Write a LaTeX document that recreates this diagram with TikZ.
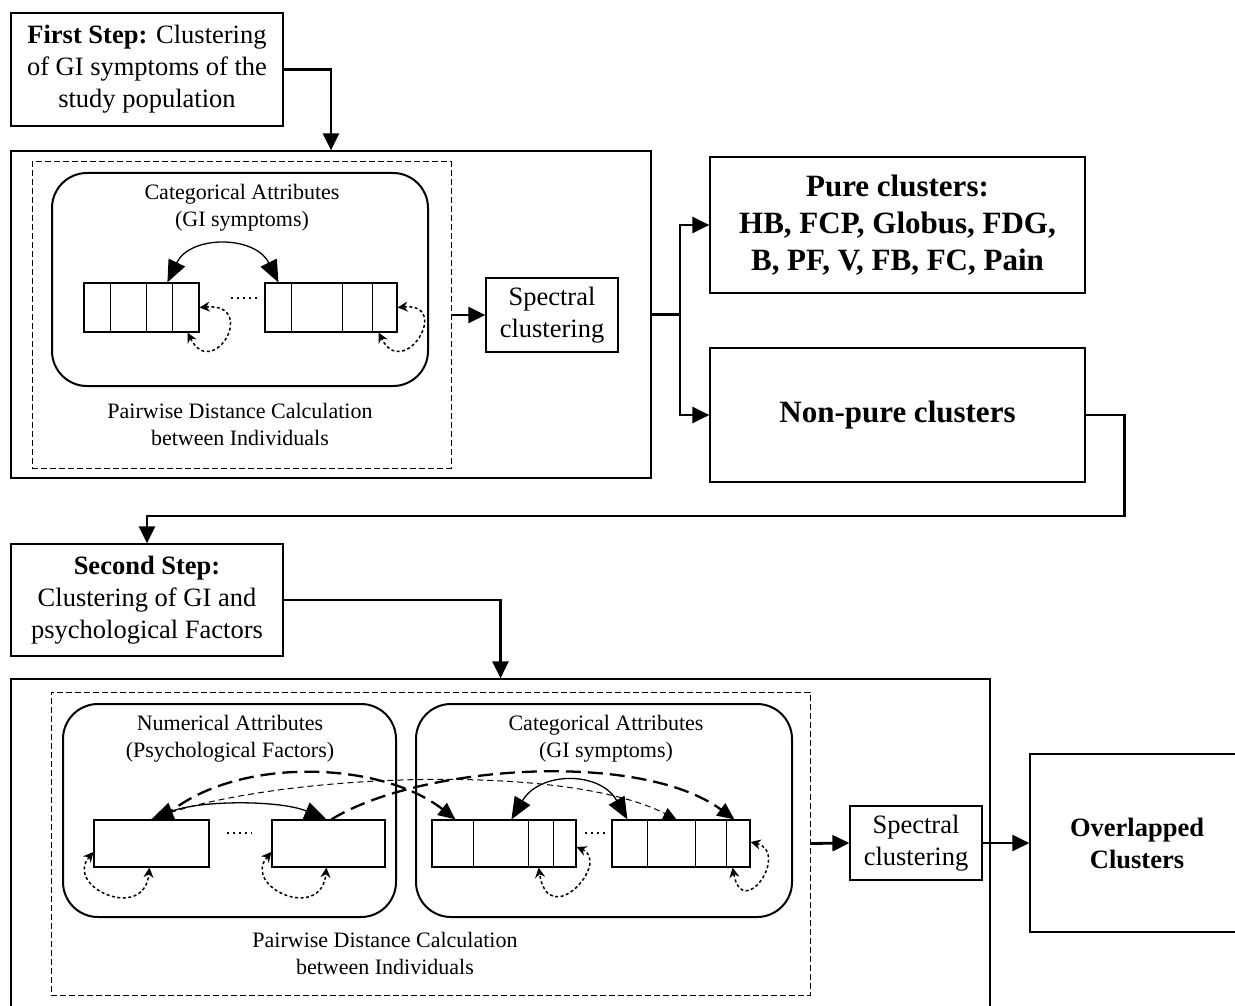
\documentclass[tikz,border=0pt]{standalone}
\usepackage{fontspec}
\setmainfont{Liberation Serif}
\usetikzlibrary{arrows.meta}
\begin{document}
\begin{tikzpicture}[x=1pt,y=-1pt,
  box/.style={draw, line width=1.2pt, inner sep=0pt, align=center, fill=white},
  dbox/.style={draw, line width=1pt, dash pattern=on 6pt off 3pt, inner sep=0pt},
  rbox/.style={draw, line width=2pt, rounded corners=35pt, inner sep=0pt},
  cell/.style={draw, line width=1.2pt, inner sep=0pt, fill=white},
  fbig/.style={font=\fontsize{26.5}{32}\selectfont},
  fsmall/.style={font=\fontsize{22}{27}\selectfont},
  fbold/.style={font=\fontsize{31}{37}\selectfont\bfseries},
  fbold2/.style={font=\fontsize{26.5}{32}\selectfont\bfseries},
  txt/.style={align=center, inner sep=0pt},
  conn/.style={line width=2.8pt, -{Triangle[length=17pt,width=16pt]}},
  plain/.style={line width=2.8pt},
  loopst/.style={line width=1.5pt, dash pattern=on 3pt off 2.5pt, {Stealth[length=10pt,width=10pt]}-{Stealth[length=10pt,width=10pt]}},
  arcst/.style={line width=1.3pt, {Triangle[length=22pt,width=18pt]}-{Triangle[length=22pt,width=18pt]}},
  thindash/.style={line width=1pt, dash pattern=on 6pt off 4pt, -{Triangle[length=13pt,width=12pt]}},
  heavydash/.style={line width=2.3pt, dash pattern=on 15pt off 7pt, -{Triangle[length=17pt,width=15pt]}},
  dotsst/.style={line width=1.6pt, dash pattern=on 2pt off 4pt}
]
\useasboundingbox (0,0) rectangle (1235,1006);

% ---------- first step ----------
\node[box, fbig, minimum width=272pt, minimum height=113pt] (s1) at (147,69.5)
  {\textbf{First Step:} Clustering\\of GI symptoms of the\\study population};
\node[box, minimum width=640pt, minimum height=327pt] (b1) at (331,314.5) {};
\node[dbox, minimum width=419pt, minimum height=306pt] (d1) at (241.5,315) {};
\node[rbox, minimum width=376pt, minimum height=213pt] (r1) at (240,279.5) {};
\node[txt, fsmall] (cat1) at (242,208) {Categorical Attributes\\(GI symptoms)};
\node[txt, fsmall] (pw1) at (240,424) {Pairwise Distance Calculation\\between Individuals};

\node[cell, minimum width=115pt, minimum height=49pt] (a1) at (141.5,307.5) {};
\foreach \o in {27,63,89}
  \draw[line width=1.2pt] ([xshift=\o pt]a1.north west) -- ([xshift=\o pt]a1.south west);
\node[cell, minimum width=132pt, minimum height=49pt] (a2) at (331,307.5) {};
\foreach \o in {27,78,108}
  \draw[line width=1.2pt] ([xshift=\o pt]a2.north west) -- ([xshift=\o pt]a2.south west);
\coordinate (dl1) at (231,298); \coordinate (dr1) at (257,298);
\draw[dotsst] (dl1) -- (dr1);

\draw[arcst] ([xshift=84pt]a1.north west) .. controls (190,235) and (255,235) .. ([xshift=14pt]a2.north west);
\draw[loopst] (a1.east) .. controls +(60,-5) and +(25,50) .. ([xshift=-12pt]a1.south east);
\draw[loopst] (a2.east) .. controls +(55,-5) and +(25,50) .. ([xshift=-19pt]a2.south east);

\node[box, fbig, minimum width=132pt, minimum height=74pt] (sp1) at (552,315) {Spectral\\clustering};
\node[box, fbold, minimum width=375pt, minimum height=136pt] (pure) at (897.5,225)
  {Pure clusters:\\HB, FCP, Globus, FDG,\\B, PF, V, FB, FC, Pain};
\node[box, fbold, minimum width=375pt, minimum height=134pt] (np) at (897.5,415) {Non-pure clusters};

\draw[conn] (s1.east) -| (b1.north);
\draw[conn] (d1.east) -- (sp1.west);
\coordinate (split) at (680,314.5);
\draw[plain] (b1.east) -- (split);
\draw[conn] (split) |- (pure.west);
\draw[conn] (split) |- (np.west);

% ---------- second step ----------
\node[box, fbig, minimum width=272pt, minimum height=112pt] (s2) at (147,600)
  {\textbf{Second Step:}\\Clustering of GI and\\psychological Factors};
\draw[conn] (np.east) -- ++(39,0) -- ++(0,101) -| (s2.north);
\node[box, minimum width=979pt, minimum height=361pt] (b2) at (500.5,859.5) {};
\node[dbox, minimum width=759pt, minimum height=303pt] (d2) at (430.5,843.5) {};
\node[rbox, minimum width=333pt, minimum height=213pt] (r2a) at (229.5,810.5) {};
\node[rbox, minimum width=376pt, minimum height=213pt] (r2b) at (604,810.5) {};
\node[txt, fsmall] (num) at (230,739) {Numerical Attributes\\(Psychological Factors)};
\node[txt, fsmall] (cat2) at (606,739) {Categorical Attributes\\(GI symptoms)};
\node[txt, fsmall] (pw2) at (385,953) {Pairwise Distance Calculation\\between Individuals};

\node[cell, minimum width=115pt, minimum height=47pt] (n1) at (151.5,843.5) {};
\node[cell, minimum width=113pt, minimum height=47pt] (n2) at (328.5,843.5) {};
\node[cell, minimum width=144pt, minimum height=47pt] (c1) at (504,843.5) {};
\foreach \o in {42,97,122}
  \draw[line width=1.2pt] ([xshift=\o pt]c1.north west) -- ([xshift=\o pt]c1.south west);
\node[cell, minimum width=138pt, minimum height=47pt] (c2) at (681,843.5) {};
\foreach \o in {36,84,115}
  \draw[line width=1.2pt] ([xshift=\o pt]c2.north west) -- ([xshift=\o pt]c2.south west);
\coordinate (dl2) at (227,833); \coordinate (dr2) at (252,833);
\draw[dotsst] (dl2) -- (dr2);
\coordinate (dl3) at (585,833); \coordinate (dr3) at (608,833);
\draw[dotsst] (dl3) -- (dr3);

% dashed long arcs
\draw[thindash] ([xshift=58pt]n1.north west) .. controls (260,775) and (560,760) .. ([xshift=65pt]c2.north west);
\draw[heavydash] ([xshift=68pt]n1.north west) .. controls (230,755) and (380,760) .. ([xshift=24pt]c1.north west);
\draw[heavydash] ([xshift=60pt]n2.north west) .. controls (420,765) and (640,750) .. ([xshift=123pt]c2.north west);
% solid arcs
\draw[arcst] ([xshift=58pt]n1.north west) .. controls (200,800) and (280,800) .. ([xshift=55pt]n2.north west);
\draw[arcst] ([xshift=80pt]c1.north west) .. controls (540,771) and (600,771) .. ([xshift=16pt]c2.north west);
% self loops
\draw[loopst] ([yshift=-8.5pt]n1.west) .. controls +(-30,35) and +(-5,55) .. ([xshift=56pt]n1.south west);
\draw[loopst] ([yshift=-8.5pt]n2.west) .. controls +(-30,35) and +(-5,55) .. ([xshift=55pt]n2.south west);
\draw[loopst] ([yshift=-3.5pt]c1.east) .. controls +(35,15) and +(10,65) .. ([xshift=-38pt]c1.south east);
\draw[loopst] ([yshift=1.5pt]c2.east) .. controls +(40,10) and +(10,55) .. ([xshift=-18pt]c2.south east);

\node[box, fbig, minimum width=132pt, minimum height=74pt] (sp2) at (916,843) {Spectral\\clustering};
\node[box, fbold2, minimum width=214pt, minimum height=178pt] (ov) at (1137,843) {Overlapped\\Clusters};

\draw[conn] (s2.east) -| (b2.north);
\draw[conn] (d2.east) -- (sp2.west);
\draw[conn] (sp2.east) -- (ov.west);
\end{tikzpicture}
\end{document}
